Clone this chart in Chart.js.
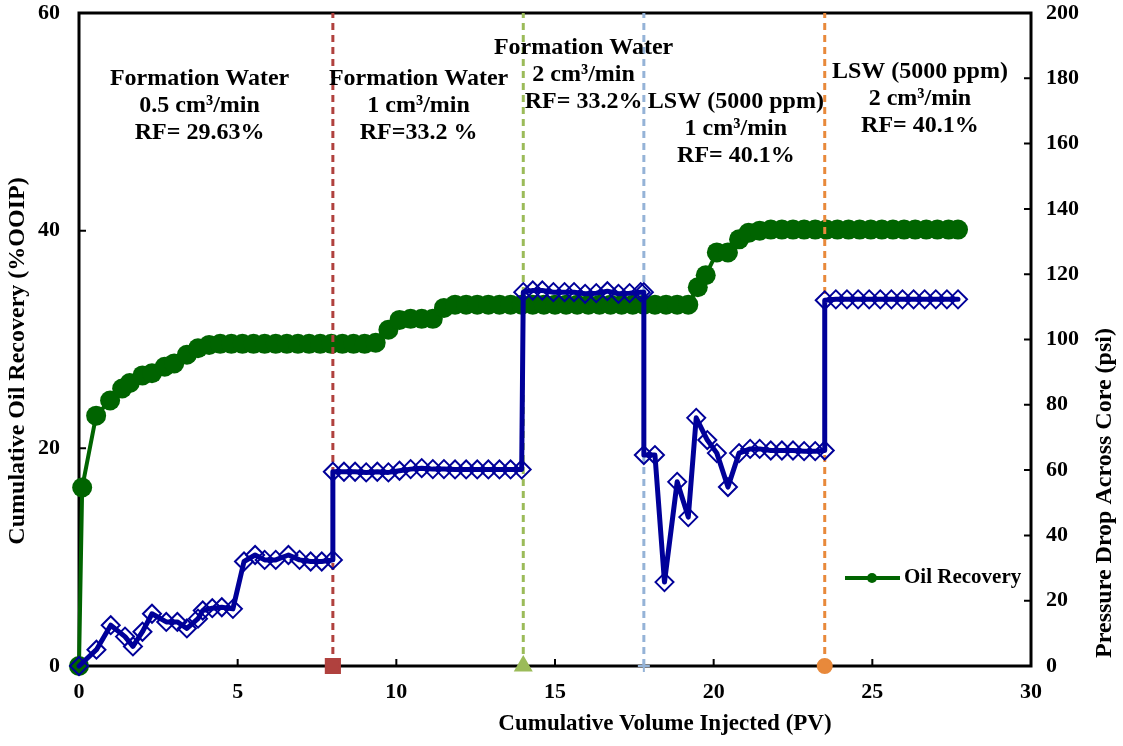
<!DOCTYPE html>
<html>
<head>
<meta charset="utf-8">
<script src="https://cdn.jsdelivr.net/npm/chart.js@4.4.0/dist/chart.umd.min.js"></script>
<style>
  html, body { margin: 0; padding: 0; background: #fff; }
</style>
</head>
<body>
<canvas id="myChart" width="1123" height="746"></canvas>
<script>
// cumulative oil recovery (%OOIP) vs pore volumes injected
const recoveryPV = [0, 0.1, 0.54, 0.98, 1.36, 1.6, 2.0, 2.3, 2.7, 3.0, 3.4, 3.75, 4.1,
  4.45, 4.8, 5.15, 5.5, 5.85, 6.2, 6.55, 6.9, 7.25, 7.6, 7.95, 8.3, 8.65, 9.0, 9.35,
  9.75, 10.1, 10.45, 10.8, 11.15, 11.5, 11.85,
  12.2, 12.55, 12.9, 13.25, 13.6, 13.95, 14.3, 14.65, 15.0, 15.35, 15.7, 16.05, 16.4,
  16.75, 17.1, 17.45, 17.8, 18.15, 18.5, 18.85, 19.2,
  19.5, 19.75, 20.1, 20.45, 20.8, 21.1, 21.45, 21.8, 22.15, 22.5, 22.85, 23.2, 23.55,
  23.9, 24.25, 24.6, 24.95, 25.3, 25.65, 26.0, 26.35, 26.7, 27.05, 27.4, 27.7];
const recoveryPct = [0, 16.4, 23.0, 24.4, 25.5, 26.0, 26.7, 26.9, 27.5, 27.8, 28.6, 29.2, 29.5,
  29.6, 29.6, 29.6, 29.6, 29.6, 29.6, 29.6, 29.6, 29.6, 29.6, 29.6, 29.6, 29.6, 29.6, 29.7,
  30.9, 31.8, 31.9, 31.9, 31.9, 32.9, 33.2,
  33.2, 33.2, 33.2, 33.2, 33.2, 33.2, 33.2, 33.2, 33.2, 33.2, 33.2, 33.2, 33.2,
  33.2, 33.2, 33.2, 33.2, 33.2, 33.2, 33.2, 33.2,
  34.8, 35.9, 38.0, 38.0, 39.2, 39.8, 40.0, 40.1, 40.1, 40.1, 40.1, 40.1, 40.1,
  40.1, 40.1, 40.1, 40.1, 40.1, 40.1, 40.1, 40.1, 40.1, 40.1, 40.1, 40.1];

// pressure drop across the core (psi)
const pressurePV = [0, 0.55, 1.0, 1.45, 1.7, 2.0, 2.3, 2.75, 3.1, 3.4, 3.75, 3.9, 4.2, 4.5, 4.85,
  5.2, 5.55, 5.85, 6.2, 6.6, 6.95, 7.3, 7.65, 8.0,
  8.0, 8.35, 8.7, 9.05, 9.4, 9.75, 10.1, 10.45, 10.8, 11.15, 11.5, 11.85, 12.2, 12.55,
  12.9, 13.25, 13.6, 13.95,
  14.0, 14.3, 14.6, 14.95, 15.3, 15.6, 15.95, 16.3, 16.65, 17.0, 17.35, 17.7, 17.8,
  17.8, 18.15, 18.45, 18.85, 19.2, 19.45, 19.8, 20.1, 20.45, 20.8, 21.15, 21.45, 21.8,
  22.15, 22.5, 22.85, 23.2, 23.5,
  23.5, 23.85, 24.2, 24.55, 24.9, 25.25, 25.6, 25.95, 26.3, 26.65, 27.0, 27.35, 27.7];
const pressurePsi = [0, 5, 12.5, 9, 6, 10.5, 16, 13.5, 13.5, 11.5, 14.5, 17, 17.7, 18, 17.5,
  32, 34, 32.5, 32.5, 34, 32.5, 32, 32, 32.5,
  59.5, 59.5, 59.5, 59.3, 59.5, 59.3, 59.8, 60.3, 60.6, 60.3, 60.3, 60.2, 60.2, 60.2,
  60.2, 60.2, 60.2, 60.2,
  114.5, 115, 115, 114.5, 114.5, 114.5, 114, 114.2, 114.8, 114, 114.2, 114.5, 114.5,
  64.6, 64.6, 25.7, 56.4, 45.6, 76, 69.2, 65.2, 54.8, 65.2, 66.5, 66.5, 66,
  66, 66, 65.8, 65.8, 66,
  112, 112.3, 112.3, 112.3, 112.3, 112.3, 112.3, 112.3, 112.3, 112.3, 112.3, 112.3, 112.3];

// injection stage changes (PV)
const stageChangePV = [8, 14, 17.8, 23.5];

// stage notes: lines of text, centre PV, first line height in %OOIP
const stageNotes = [
  { lines: ['Formation Water', '0.5 cm³/min', 'RF= 29.63%'], pv: 3.8, pct: 54.0 },
  { lines: ['Formation Water', '1 cm³/min', 'RF=33.2 %'], pv: 10.7, pct: 54.0 },
  { lines: ['Formation Water', '2 cm³/min', 'RF= 33.2%'], pv: 15.9, pct: 56.8 },
  { lines: ['LSW (5000 ppm)', '1 cm³/min', 'RF= 40.1%'], pv: 20.7, pct: 51.8 },
  { lines: ['LSW (5000 ppm)', '2 cm³/min', 'RF= 40.1%'], pv: 26.5, pct: 54.6 }
];

const serif = "'Liberation Serif', 'Times New Roman', serif";
const green = '#006400';
const navy = '#000099';
const stageStyles = [
  { color: '#b0413e', style: 'rect', radius: 10 },
  { color: '#9bbb59', style: 'triangle', radius: 9 },
  { color: '#95b3d7', style: 'cross', radius: 6 },
  { color: '#e8893b', style: 'circle', radius: 7 }
];

const toXY = (xs, ys) => xs.map((x, i) => ({ x: x, y: ys[i] }));

const datasets = [
  {
    label: 'Oil Recovery',
    data: toXY(recoveryPV, recoveryPct),
    yAxisID: 'y',
    showLine: true,
    borderColor: green,
    borderWidth: 4,
    borderJoinStyle: 'round',
    pointRadius: 10,
    pointBackgroundColor: green,
    pointBorderColor: green,
    pointBorderWidth: 0,
    clip: false,
    order: 2
  },
  {
    label: 'Pressure Drop',
    data: toXY(pressurePV, pressurePsi),
    yAxisID: 'y2',
    showLine: true,
    borderColor: navy,
    borderWidth: 5,
    borderJoinStyle: 'round',
    borderCapStyle: 'round',
    pointStyle: 'rectRot',
    pointRadius: 9,
    pointBackgroundColor: 'rgba(0,0,0,0)',
    pointBorderColor: navy,
    pointBorderWidth: 2,
    clip: false,
    order: 0
  }
];

stageChangePV.forEach((pv, i) => {
  const s = stageStyles[i];
  datasets.push({
    label: 'stage ' + (i + 1),
    data: [{ x: pv, y: 0 }, { x: pv, y: 60 }],
    yAxisID: 'y',
    showLine: true,
    borderColor: s.color,
    borderWidth: 3,
    borderDash: [7, 5],
    pointStyle: s.style,
    pointRadius: [s.radius, 0],
    pointBackgroundColor: s.color,
    pointBorderColor: s.color,
    pointBorderWidth: 2,
    clip: false,
    order: 1
  });
});

const tickFont = { family: serif, size: 22, weight: 'bold' };

// fixed axis boxes so the plot area sits at 79..1031 x 13..666
const fitX = s => { s.height = 80; s.paddingLeft = 0; s.paddingRight = 0; };
const fitY = w => s => { s.width = w; s.paddingTop = 0; s.paddingBottom = 0; };

const frame = {
  id: 'frame',
  beforeDatasetsDraw(chart) {
    const { ctx, chartArea: a, scales } = chart;
    ctx.save();
    ctx.strokeStyle = '#000';
    ctx.lineWidth = 3;
    ctx.strokeRect(a.left, a.top, a.right - a.left, a.bottom - a.top);
    ctx.lineWidth = 2;
    ctx.beginPath();
    scales.x.ticks.forEach(t => {
      const px = scales.x.getPixelForValue(t.value);
      ctx.moveTo(px, a.bottom); ctx.lineTo(px, a.bottom - 7);
    });
    scales.y.ticks.forEach(t => {
      const py = scales.y.getPixelForValue(t.value);
      ctx.moveTo(a.left, py); ctx.lineTo(a.left + 7, py);
    });
    scales.y2.ticks.forEach(t => {
      const py = scales.y2.getPixelForValue(t.value);
      ctx.moveTo(a.right, py); ctx.lineTo(a.right - 7, py);
    });
    ctx.stroke();
    ctx.restore();
  },
  afterDraw(chart) {
    const { ctx, scales } = chart;
    ctx.save();
    ctx.fillStyle = '#000';
    ctx.textAlign = 'center';
    ctx.textBaseline = 'middle';

    // stage notes
    ctx.font = 'bold 24px ' + serif;
    stageNotes.forEach(n => {
      const cx = scales.x.getPixelForValue(n.pv);
      const y0 = scales.y.getPixelForValue(n.pct);
      n.lines.forEach((line, k) => ctx.fillText(line, cx, y0 + k * 27));
    });

    // axis titles
    ctx.font = 'bold 23px ' + serif;
    ctx.fillText('Cumulative Volume Injected (PV)', 665, 724);
    ctx.font = 'bold 24px ' + serif;
    ctx.save();
    ctx.translate(18, 361);
    ctx.rotate(-Math.PI / 2);
    ctx.fillText('Cumulative Oil Recovery (%OOIP)', 0, 0);
    ctx.restore();
    ctx.save();
    ctx.translate(1105, 493);
    ctx.rotate(-Math.PI / 2);
    ctx.fillText('Pressure Drop Across Core (psi)', 0, 0);
    ctx.restore();

    // legend
    const ly = 578;
    ctx.strokeStyle = green;
    ctx.lineWidth = 4;
    ctx.beginPath();
    ctx.moveTo(845, ly); ctx.lineTo(900, ly);
    ctx.stroke();
    ctx.fillStyle = green;
    ctx.beginPath();
    ctx.arc(872, ly, 5, 0, Math.PI * 2);
    ctx.fill();
    ctx.fillStyle = '#000';
    ctx.textAlign = 'left';
    ctx.font = 'bold 21px ' + serif;
    ctx.fillText('Oil Recovery', 904, ly);
    ctx.restore();
  }
};

new Chart(document.getElementById('myChart').getContext('2d'), {
  type: 'scatter',
  data: { datasets: datasets },
  options: {
    responsive: false,
    animation: false,
    layout: { padding: { top: 13, left: 0, right: 0, bottom: 0 } },
    plugins: { legend: { display: false }, tooltip: { enabled: false } },
    scales: {
      x: {
        type: 'linear', min: 0, max: 30,
        grid: { display: false }, border: { display: false },
        ticks: { stepSize: 5, font: tickFont, color: '#000', padding: 5, maxRotation: 0 },
        afterFit: fitX
      },
      y: {
        position: 'left', min: 0, max: 60,
        grid: { display: false }, border: { display: false },
        ticks: { stepSize: 20, font: tickFont, color: '#000', padding: 11 },
        afterFit: fitY(79)
      },
      y2: {
        position: 'right', min: 0, max: 200,
        grid: { display: false }, border: { display: false },
        ticks: { stepSize: 20, font: tickFont, color: '#000', padding: 7 },
        afterFit: fitY(92)
      }
    }
  },
  plugins: [frame]
});
</script>
</body>
</html>
